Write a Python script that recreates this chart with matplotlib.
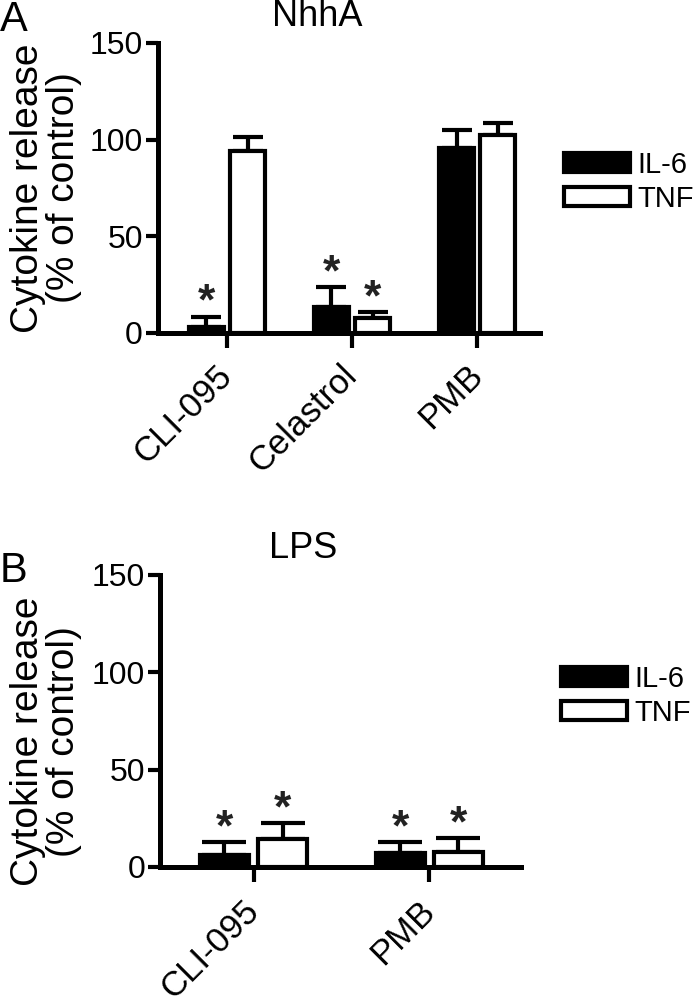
import numpy as np
import matplotlib
matplotlib.use("Agg")
import matplotlib.pyplot as plt
from matplotlib.patches import Patch

plt.rcParams['font.family'] = ['Liberation Sans', 'DejaVu Sans']

# panel A : NhhA
a_groups = ["CLI-095", "Celastrol", "PMB"]
a_il6 = [3.3, 13.3, 95.5]
a_il6_err = [5.0, 10.3, 9.5]
a_tnf = [94.3, 7.6, 102.4]
a_tnf_err = [7.0, 3.1, 6.4]
a_il6_star = [True, True, False]
a_tnf_star = [False, True, False]

# panel B : LPS
b_groups = ["CLI-095", "PMB"]
b_il6 = [6.2, 7.1]
b_il6_err = [6.6, 5.7]
b_tnf = [14.5, 7.6]
b_tnf_err = [8.1, 7.2]
b_il6_star = [True, True]
b_tnf_star = [True, True]

fig = plt.figure(figsize=(7, 9.97), dpi=100)

LW = 3.0


def panel(ax, title, groups, il6, il6_err, tnf, tnf_err, il6_star, tnf_star,
          xlim, capsize, title_x, label_xy, leg_xy, xpad):
    x = np.arange(len(groups))
    off = 0.165
    w = 0.28
    ax.bar(x - off, il6, w, color="black", edgecolor="black", linewidth=LW, zorder=3)
    ax.bar(x + off, tnf, w, color="white", edgecolor="black", linewidth=LW, zorder=3)
    for xs, v, e in [(x - off, il6, il6_err), (x + off, tnf, tnf_err)]:
        ax.errorbar(xs, v, yerr=[np.zeros(len(v)), e], fmt="none", ecolor="black",
                    elinewidth=LW, capsize=capsize, capthick=LW, zorder=2)
    for xs, v, e, st in [(x - off, il6, il6_err, il6_star), (x + off, tnf, tnf_err, tnf_star)]:
        for xi, vi, ei, s in zip(xs, v, e, st):
            if s:
                ax.annotate("*", xy=(xi, vi + ei), xytext=(0, -5), textcoords="offset points",
                            ha="center", va="bottom", fontsize=32, fontweight="bold",
                            color="#222222")
    ax.set_xlim(*xlim)
    ax.set_ylim(0, 150)
    ax.set_yticks([0, 50, 100, 150])
    ax.set_xticks(x)
    ax.set_xticklabels(groups, rotation=45, ha="right", va="center",
                       rotation_mode="anchor", fontsize=25)
    ax.tick_params(axis="y", labelsize=23)
    ax.tick_params(axis="both", width=LW, color="black")
    ax.tick_params(axis="y", length=9, pad=2)
    ax.tick_params(axis="x", length=11, pad=xpad)
    for s in ["top", "right"]:
        ax.spines[s].set_visible(False)
    for s in ["left", "bottom"]:
        ax.spines[s].set_linewidth(3.6)
    ax.set_ylabel("Cytokine release\n(% of control)", fontsize=28, linespacing=1.0)
    ax.yaxis.set_label_coords(*label_xy)
    ax.set_title(title, fontsize=26, pad=12, x=title_x)
    ax.legend(handles=[Patch(facecolor="black", edgecolor="black", linewidth=LW, label="IL-6"),
                       Patch(facecolor="white", edgecolor="black", linewidth=LW, label="TNF")],
              loc="center left", bbox_to_anchor=leg_xy, frameon=False, fontsize=21,
              handlelength=2.25, handleheight=0.62, handletextpad=0.25, labelspacing=0.2)


ax1 = fig.add_axes([0.226, 0.666, 0.545, 0.291])
panel(ax1, "NhhA", a_groups, a_il6, a_il6_err, a_tnf, a_tnf_err, a_il6_star, a_tnf_star,
      (-0.55, 2.5), 11, 0.417, (-0.2, 0.5), (0.995, 0.52), 16)

ax2 = fig.add_axes([0.229, 0.1304, 0.515, 0.293])
panel(ax2, "LPS", b_groups, b_il6, b_il6_err, b_tnf, b_tnf_err, b_il6_star, b_tnf_star,
      (-0.53, 1.52), 16, 0.397, (-0.216, 0.43), (1.04, 0.585), 17)

fig.text(0.0, 1.0, "A", fontsize=30, va="top", ha="left")
fig.text(0.0, 0.447, "B", fontsize=30, va="top", ha="left")

fig.savefig("out.png", dpi=100)
